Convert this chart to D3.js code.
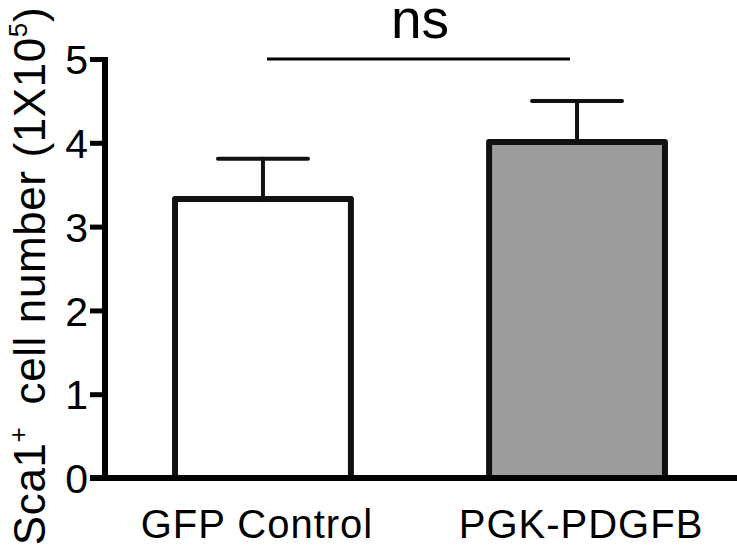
<!DOCTYPE html>
<html>
<head>
<meta charset="utf-8">
<script src="https://cdn.jsdelivr.net/npm/d3@7"></script>
<style>
  html, body { margin: 0; padding: 0; background: #fff; }
  svg { display: block; font-family: "Liberation Sans", Arial, sans-serif; }
</style>
</head>
<body>
<div id="chart"></div>
<script>
const groups = ['GFP Control', 'PGK-PDGFB'];
const means = [3.33, 4.01];
const errors = [0.48, 0.49];
const yTicks = [0, 1, 2, 3, 4, 5];
const sigLabel = 'ns';

const barFill = ['#ffffff', '#9d9d9d'];
const width = 737, height = 545;
const axisX = 105;

const svg = d3.select('#chart').append('svg')
    .attr('width', width)
    .attr('height', height);

const y = d3.scaleLinear().domain([0, 5]).range([478, 59]);
const x = d3.scaleBand().domain(groups).range([axisX, 735])
    .paddingInner(0.44).paddingOuter(0.223);

const data = groups.map((g, i) => ({ g, mean: means[i], err: errors[i], fill: barFill[i] }));

// bars
svg.append('g')
  .selectAll('rect')
  .data(data)
  .join('rect')
    .attr('x', d => x(d.g))
    .attr('y', d => y(d.mean))
    .attr('width', x.bandwidth())
    .attr('height', d => y(0) - y(d.mean))
    .attr('fill', d => d.fill)
    .attr('stroke', '#111')
    .attr('stroke-width', 6)
    .attr('stroke-linejoin', 'round');

// error bars (upper only)
const eb = svg.append('g').attr('stroke', '#111').attr('stroke-linecap', 'round');
eb.selectAll('line.v')
  .data(data)
  .join('line')
    .attr('class', 'v')
    .attr('x1', d => x(d.g) + x.bandwidth() / 2)
    .attr('x2', d => x(d.g) + x.bandwidth() / 2)
    .attr('y1', d => y(d.mean))
    .attr('y2', d => y(d.mean + d.err))
    .attr('stroke-width', 4);
eb.selectAll('line.cap')
  .data(data)
  .join('line')
    .attr('class', 'cap')
    .attr('x1', d => x(d.g) + x.bandwidth() / 2 - 45)
    .attr('x2', d => x(d.g) + x.bandwidth() / 2 + 45)
    .attr('y1', d => y(d.mean + d.err))
    .attr('y2', d => y(d.mean + d.err))
    .attr('stroke-width', 4);

// y axis
const yAxis = svg.append('g')
    .attr('transform', `translate(${axisX},0)`)
    .call(d3.axisLeft(y).tickValues(yTicks).tickSize(15).tickPadding(2).tickFormat(d3.format('d')));
yAxis.select('.domain').remove();
yAxis.append('line')
    .attr('y1', y(5) - 2).attr('y2', y(0) + 3)
    .attr('stroke', '#000').attr('stroke-width', 6);
yAxis.selectAll('.tick line').attr('stroke', '#000').attr('stroke-width', 5);
yAxis.selectAll('.tick text')
    .attr('fill', '#000')
    .style('font-size', '41px')
    .attr('dy', '0.36em');

// x axis baseline
svg.append('line')
    .attr('x1', axisX - 15).attr('x2', width)
    .attr('y1', y(0)).attr('y2', y(0))
    .attr('stroke', '#000').attr('stroke-width', 6);

// x labels
const labelShift = [-6, 4];
svg.append('g')
  .selectAll('text')
  .data(groups)
  .join('text')
    .attr('x', (d, i) => x(d) + x.bandwidth() / 2 + labelShift[i])
    .attr('y', 538)
    .attr('text-anchor', 'middle')
    .style('font-size', '40px')
    .style('letter-spacing', '1px')
    .text(d => d);

// significance bracket
const sx1 = x(groups[0]) + x.bandwidth() / 2, sx2 = x(groups[1]) + x.bandwidth() / 2;
svg.append('line')
    .attr('x1', sx1 + 4).attr('x2', sx2 - 7)
    .attr('y1', 59).attr('y2', 59)
    .attr('stroke', '#000').attr('stroke-width', 3);
svg.append('text')
    .attr('x', (sx1 + sx2) / 2)
    .attr('y', 38)
    .attr('text-anchor', 'middle')
    .style('font-size', '55px')
    .text(sigLabel);

// y label
const yl = svg.append('text')
    .attr('transform', 'translate(45,276) rotate(-90)')
    .attr('text-anchor', 'middle')
    .style('font-size', '44px')
    .style('letter-spacing', '0.6px');
yl.append('tspan').text('Sca1');
yl.append('tspan').attr('dy', -18).style('font-size', '26px').text('+');
yl.append('tspan').attr('dy', 18).text('\u00a0\u2009cell number (1X10');
yl.append('tspan').attr('dy', -18).style('font-size', '26px').text('5');
yl.append('tspan').attr('dy', 18).text(')');
</script>
</body>
</html>
